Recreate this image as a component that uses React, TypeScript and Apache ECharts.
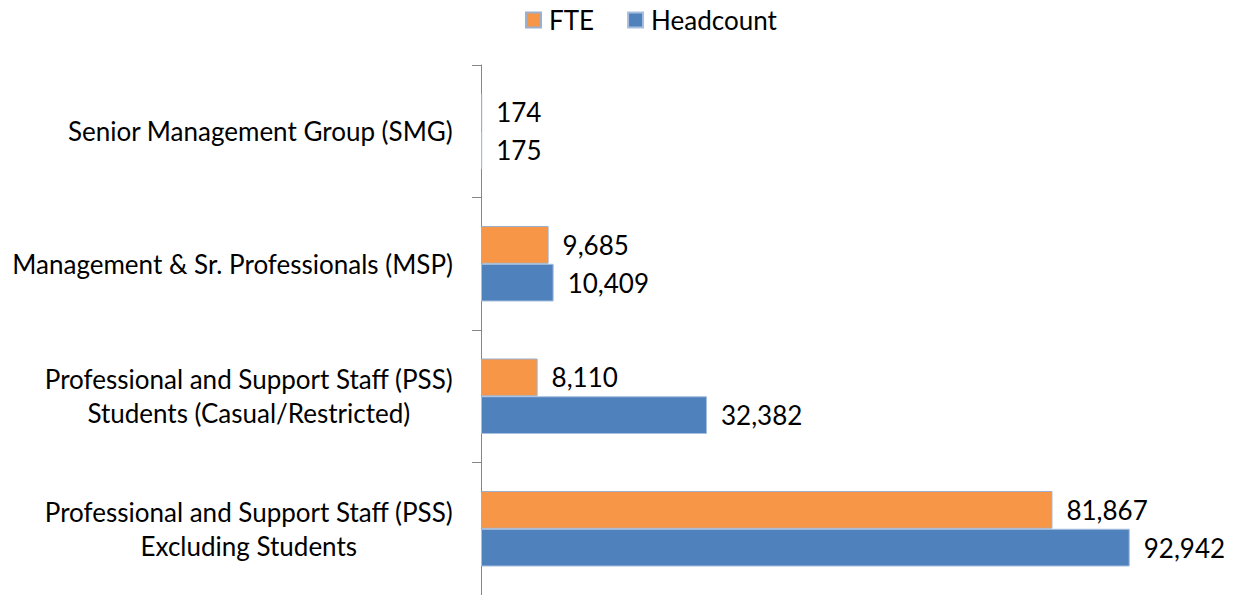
import React, { useEffect, useRef } from "react";
import * as echarts from "echarts";

const categories = [
  "Senior Management Group (SMG)",
  "Management & Sr. Professionals (MSP)",
  "Professional and Support Staff (PSS)\nStudents (Casual/Restricted)",
  "Professional and Support Staff (PSS)\nExcluding Students",
];
const fteValues = [174, 9685, 8110, 81867];
const headcountValues = [175, 10409, 32382, 92942];

const FONT = "Lato";
const FS = 26;

export default function App() {
  const ref = useRef<HTMLDivElement>(null);
  useEffect(() => {
    if (!ref.current) return;
    const chart = echarts.init(ref.current, undefined, { renderer: "svg" });
    const fmt = (p: any) => Number(p.value).toLocaleString("en-US");
    chart.setOption({
      animation: false,
      textStyle: { fontFamily: FONT },
      legend: {
        left: 520,
        top: 2,
        itemWidth: 15,
        itemHeight: 15,
        itemGap: 33,
        icon: "rect",
        textStyle: { fontFamily: FONT, fontSize: FS, color: "#000", padding: [0, 0, 0, 3] },
        data: ["FTE", "Headcount"],
      },
      grid: { left: 481, right: 59, top: 65, bottom: 0, containLabel: false },
      xAxis: {
        type: "value",
        min: 0,
        max: 100000,
        show: false,
      },
      yAxis: {
        type: "category",
        inverse: true,
        data: categories,
        axisLine: { show: true, lineStyle: { color: "#868686", width: 1 } },
        axisTick: { show: true, length: 9, lineStyle: { color: "#868686" } },
        axisLabel: {
          margin: 28,
          align: "right",
          formatter: (v: string) =>
            v
              .split("\n")
              .map((l) => "{c|" + l + "}")
              .join("\n"),
          rich: {
            c: {
              align: "center",
              fontFamily: FONT,
              fontSize: FS,
              color: "#000",
              lineHeight: 34,
            },
          },
        },
      },
      series: [
        {
          name: "FTE",
          type: "bar",
          data: fteValues,
          barGap: "0%",
          barCategoryGap: "43%",
          itemStyle: { color: "#F79646", borderColor: "#9BB0CF", borderWidth: 1 },
          label: {
            show: true,
            position: "right",
            distance: 14,
            formatter: fmt,
            fontFamily: FONT,
            fontSize: FS,
            color: "#000",
          },
        },
        {
          name: "Headcount",
          type: "bar",
          data: headcountValues,
          barGap: "0%",
          barCategoryGap: "43%",
          itemStyle: { color: "#4F81BD", borderColor: "#A7BFDE", borderWidth: 1 },
          label: {
            show: true,
            position: "right",
            distance: 14,
            formatter: fmt,
            fontFamily: FONT,
            fontSize: FS,
            color: "#000",
          },
        },
      ],
    });
    return () => chart.dispose();
  }, []);
  return (
    <div
      ref={ref}
      style={{ position: "absolute", left: 0, top: 0, width: 1238, height: 595 }}
    />
  );
}
